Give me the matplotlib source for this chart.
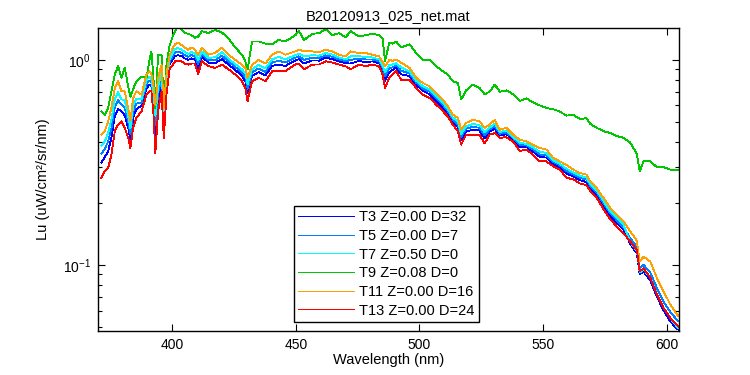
import numpy as np
import matplotlib
matplotlib.use('Agg')
import matplotlib.pyplot as plt
from matplotlib.ticker import NullFormatter, LogLocator

plt.rcParams['font.family'] = ['Liberation Sans', 'DejaVu Sans']
plt.rcParams['lines.antialiased'] = False

# wavelength grid (nm)
wl = [371.4, 372.7, 374.1, 375.4, 376.8, 378.1, 379.5, 380.8, 382.2, 383.1,
      384.2, 385.5, 387.6, 389.6, 390.8, 391.6, 392.4, 393.2, 394.3, 395.7,
      396.6, 397.7, 399.0, 400.4, 401.1, 402.4, 403.8, 405.1, 406.5, 407.8,
      409.2, 410.5, 412.0, 414.7, 417.4, 420.1, 422.8, 425.5, 428.2, 429.6,
      430.5, 432.3, 435.0, 437.7, 440.4, 443.1, 445.8, 449.8, 451.3, 453.3,
      456.7, 459.4, 462.1, 464.8, 467.5, 470.2, 472.2, 475.6, 478.3, 481.0,
      483.7, 485.1, 486.1, 487.8, 489.1, 490.6, 492.6, 496.0, 498.7, 501.4,
      504.1, 506.8, 509.5, 511.5, 513.5, 515.6, 516.9, 518.9, 521.6, 524.3,
      526.4, 528.4, 530.5, 532.5, 535.2, 537.9, 540.6, 543.3, 546.0, 548.7,
      551.4, 554.1, 556.8, 559.5, 562.2, 564.9, 567.6, 569.1, 571.8, 574.5,
      577.2, 579.9, 582.6, 585.3, 587.3, 588.0, 589.1, 590.7, 593.4, 596.1,
      598.8, 601.5, 604.2, 606.0]

# Lu values for each cast
lu_t3 = [.316, .335, .359, .416, .533, .575, .563, .537, .467, .411,
         .522, .576, .597, .728, .756, .747, .61, .428, .639, .777,
         .467, .728, .958, 1.01, 1.046, 1.052, 1.043, 1.017, 1.0, 1.017,
         1.008, .913, 1.034, .97, .964, 1.009, .948, .894, .835, .785,
         .686, .835, .872, .839, .935, .947, .935, .994, 1.008, .96,
         .994, .992, 1.025, 1.009, .983, .963, .96, .989, .975, .983,
         .963, .889, .79, .872, .892, .917, .851, .834, .756, .706,
         .68, .631, .586, .549, .501, .471, .407, .45, .455, .453,
         .414, .448, .461, .429, .434, .41, .375, .376, .357, .336,
         .334, .312, .30, .279, .271, .259, .254, .238, .22, .195,
         .174, .161, .149, .127, .117, .114, .09, .093, .084, .07,
         .06, .053, .049, .047]

lu_t5 = [.349, .368, .400, .464, .590, .636, .603, .585, .500, .437,
         .560, .612, .620, .763, .792, .777, .65, .479, .690, .826,
         .500, .763, .987, 1.05, 1.087, 1.097, 1.082, 1.055, 1.034, 1.055,
         1.04, .955, 1.067, .996, .997, 1.049, .98, .924, .868, .822,
         .724, .868, .909, .874, .971, .991, .971, 1.024, 1.04, 1.0,
         1.024, 1.02, 1.052, 1.035, 1.005, .985, 1.0, 1.015, 1.005, 1.005,
         .985, .915, .83, .909, .92, .941, .885, .857, .774, .725,
         .699, .648, .602, .562, .513, .485, .422, .463, .471, .467,
         .429, .458, .475, .437, .443, .416, .385, .383, .366, .346,
         .343, .318, .306, .287, .277, .266, .261, .243, .225, .20,
         .179, .165, .153, .135, .126, .122, .097, .10, .092, .077,
         .066, .059, .054, .052]

lu_t7 = [.382, .400, .441, .512, .646, .696, .643, .632, .533, .463,
         .597, .648, .643, .797, .828, .806, .69, .529, .741, .875,
         .533, .797, 1.016, 1.09, 1.128, 1.142, 1.121, 1.093, 1.068, 1.093,
         1.072, .997, 1.10, 1.022, 1.03, 1.089, 1.012, .954, .90, .859,
         .761, .90, .945, .908, 1.006, 1.034, 1.006, 1.054, 1.072, 1.04,
         1.054, 1.048, 1.079, 1.061, 1.027, 1.007, 1.04, 1.041, 1.035, 1.027,
         1.007, .941, .87, .945, .948, .964, .919, .88, .791, .744,
         .717, .665, .617, .575, .524, .499, .436, .475, .487, .481,
         .444, .468, .489, .445, .452, .422, .394, .39, .374, .356,
         .352, .324, .312, .295, .283, .272, .267, .248, .23, .205,
         .183, .169, .157, .129, .12, .117, .092, .095, .087, .072,
         .062, .055, .050, .048]

lu_t9 = [.562, .54, .583, .703, .848, .932, .817, .914, .744, .66,
         .72, .787, .83, .817, 1.0, 1.10, .817, .583, 1.06, 1.06,
         .605, .95, 1.18, 1.32, 1.38, 1.46, 1.40, 1.35, 1.34, 1.32,
         1.28, 1.30, 1.38, 1.35, 1.40, 1.36, 1.27, 1.15, 1.06, .984,
         .90, 1.23, 1.23, 1.2, 1.19, 1.25, 1.23, 1.32, 1.38, 1.25,
         1.34, 1.35, 1.41, 1.32, 1.35, 1.29, 1.38, 1.30, 1.32, 1.34,
         1.32, 1.27, .984, 1.21, 1.20, 1.23, 1.15, 1.19, 1.08, 1.0,
         1.0, .93, .881, .848, .787, .77, .641, .71, .758, .73,
         .68, .70, .758, .70, .71, .68, .63, .65, .62, .60,
         .583, .575, .56, .535, .54, .515, .52, .487, .466, .449,
         .44, .425, .417, .395, .36, .345, .286, .322, .32, .30,
         .30, .292, .29, .29]

lu_t11 = [.432, .449, .502, .583, .730, .787, .703, .703, .583, .502,
          .653, .703, .677, .848, .881, .85, .75, .605, .817, .948,
          .583, .848, 1.06, 1.15, 1.19, 1.21, 1.18, 1.15, 1.12, 1.15,
          1.12, 1.06, 1.15, 1.06, 1.08, 1.15, 1.06, 1.0, .948, .914,
          .817, .948, 1.0, .96, 1.06, 1.10, 1.06, 1.10, 1.12, 1.10,
          1.10, 1.09, 1.12, 1.10, 1.06, 1.04, 1.10, 1.08, 1.08, 1.06,
          1.04, .98, .93, 1.0, .99, 1.0, .97, .914, .817, .772,
          .744, .69, .641, .594, .541, .521, .457, .493, .51, .502,
          .466, .484, .51, .457, .466, .432, .409, .40, .386, .372,
          .365, .333, .32, .308, .292, .281, .276, .256, .237, .212,
          .19, .176, .163, .146, .135, .13, .104, .11, .104, .0864,
          .0744, .0641, .0573, .055]

lu_t13 = [.266, .286, .297, .345, .449, .484, .503, .466, .417, .372,
          .466, .521, .562, .677, .703, .703, .55, .352, .562, .703,
          .417, .677, .914, .95, .984, .984, .984, .96, .948, .96,
          .96, .85, .984, .932, .914, .948, .90, .848, .787, .73,
          .63, .787, .817, .787, .881, .881, .881, .948, .96, .90,
          .948, .95, .984, .97, .95, .93, .90, .95, .93, .95,
          .93, .85, .73, .817, .85, .881, .80, .80, .73, .677,
          .653, .605, .562, .53, .484, .449, .386, .432, .432, .432,
          .392, .432, .44, .417, .42, .40, .36, .365, .345, .32,
          .32, .303, .292, .266, .262, .25, .245, .23, .212, .187,
          .167, .154, .143, .13, .121, .118, .093, .0964, .0864, .0716,
          .0616, .0552, .0512, .049]

labels = ['T3 Z=0.00 D=32', 'T5 Z=0.00 D=7', 'T7 Z=0.50 D=0',
          'T9 Z=0.08 D=0', 'T11 Z=0.00 D=16', 'T13 Z=0.00 D=24']
series = [lu_t3, lu_t5, lu_t7, lu_t9, lu_t11, lu_t13]
colors = ['#0000ff', '#0080ff', '#00ffff', '#00c800', '#ffa000', '#ff0000']

fig = plt.figure(figsize=(7.5, 3.75), dpi=100)
ax = fig.add_axes([0.1307, 0.1173, 0.7746, 0.808])

for vals, lab, col in zip(series, labels, colors):
    ax.plot(wl, vals, color=col, linewidth=0.6, label=lab)

ax.set_yscale('log')
ax.set_xlim(370, 605)
ax.set_ylim(0.0477, 1.43)
ax.set_xticks([400, 450, 500, 550, 600])
ax.yaxis.set_minor_locator(LogLocator(base=10, subs=np.arange(2, 10)))
ax.yaxis.set_minor_formatter(NullFormatter())

ax.tick_params(which='both', direction='in', top=True, right=True, labelsize=10, width=0.8)
ax.tick_params(which='major', length=5, pad=5)
ax.tick_params(which='minor', length=3)
for sp in ax.spines.values():
    sp.set_linewidth(1.0)

ax.set_title('B20120913_025_net.mat', fontsize=10.5, pad=6)
ax.set_xlabel('Wavelength (nm)', fontsize=10.5, labelpad=1)
ax.set_ylabel('Lu (uW/cm²/sr/nm)', fontsize=10.5, labelpad=9)

leg = ax.legend(loc='lower left', bbox_to_anchor=(0.337, 0.03), borderaxespad=0,
                fontsize=10.5, fancybox=False, framealpha=1, edgecolor='black',
                handlelength=3.8, handletextpad=0.4, labelspacing=0.32, borderpad=0.3)
leg.get_frame().set_linewidth(1.0)

fig.savefig('out.png', dpi=100)
